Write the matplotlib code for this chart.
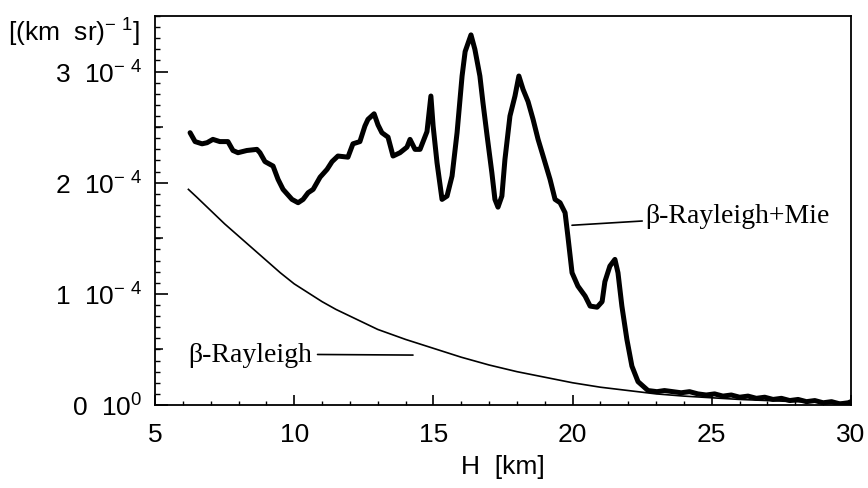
import matplotlib
matplotlib.use("Agg")
import matplotlib.pyplot as plt
from matplotlib.ticker import MultipleLocator

plt.rcParams['font.family'] = ['Liberation Sans', 'DejaVu Sans']
plt.rcParams['mathtext.default'] = 'regular'

# ---- data (units: 1e-4 (km sr)^-1) ----
mie_h = [6.26, 6.44, 6.69, 6.87, 7.08, 7.33, 7.62, 7.80, 7.98, 8.30, 8.66, 8.77,
         8.95, 9.24, 9.42, 9.60, 9.92, 10.14, 10.32, 10.50, 10.68, 10.93, 11.18,
         11.36, 11.57, 11.93, 12.11, 12.36, 12.54, 12.65, 12.87, 13.01, 13.15,
         13.37, 13.55, 13.80, 14.05, 14.16, 14.34, 14.52, 14.77, 14.91, 14.99,
         15.13, 15.31, 15.49, 15.67, 15.85, 16.03, 16.14, 16.35, 16.49, 16.67,
         16.78, 16.93, 17.10, 17.21, 17.32, 17.46, 17.57, 17.75, 17.93, 18.07,
         18.22, 18.40, 18.58, 18.76, 18.94, 19.19, 19.37, 19.55, 19.73, 19.83,
         19.98, 20.19, 20.45, 20.63, 20.88, 21.06, 21.16, 21.34, 21.52, 21.63,
         21.77, 21.95, 22.13, 22.35, 22.71, 23.03, 23.3, 23.6, 23.9, 24.2, 24.5,
         24.8, 25.1, 25.4, 25.7, 26.0, 26.3, 26.6, 26.9, 27.2, 27.5, 27.8, 28.1,
         28.4, 28.7, 29.0, 29.3, 29.6, 29.9, 30.0]
mie_v = [2.45, 2.37, 2.35, 2.36, 2.39, 2.37, 2.37, 2.29, 2.27, 2.29, 2.30, 2.27,
         2.19, 2.15, 2.03, 1.94, 1.85, 1.82, 1.85, 1.91, 1.94, 2.05, 2.12,
         2.19, 2.24, 2.23, 2.35, 2.37, 2.51, 2.57, 2.62, 2.52, 2.45,
         2.41, 2.24, 2.27, 2.32, 2.39, 2.30, 2.30, 2.46, 2.78, 2.51,
         2.18, 1.85, 1.88, 2.06, 2.45, 2.96, 3.18, 3.33, 3.20, 2.96,
         2.72, 2.42, 2.09, 1.85, 1.78, 1.88, 2.21, 2.60, 2.78, 2.96,
         2.84, 2.73, 2.57, 2.39, 2.24, 2.03, 1.85, 1.82, 1.73, 1.52,
         1.19, 1.07, 0.98, 0.89, 0.88, 0.93, 1.11, 1.25, 1.31, 1.19,
         0.89, 0.59, 0.35, 0.21, 0.13, 0.12, 0.13, 0.12, 0.11, 0.12, 0.10,
         0.09, 0.10, 0.08, 0.09, 0.07, 0.08, 0.06, 0.07, 0.05, 0.06, 0.04, 0.05,
         0.03, 0.04, 0.02, 0.03, 0.01, 0.02, 0.03]

ray_h = [6.2, 6.5, 7.0, 7.5, 8.0, 8.5, 9.0, 9.5, 10.0, 10.5, 11.0, 11.5, 12.0,
         13.0, 14.0, 15.0, 16.0, 17.0, 18.0, 19.0, 20.0, 21.0, 22.0, 23.0, 24.0,
         25.0, 26.0, 27.0, 28.0, 29.0, 30.0]
ray_v = [1.94, 1.87, 1.75, 1.63, 1.52, 1.41, 1.30, 1.19, 1.09, 1.01, 0.93, 0.86,
         0.80, 0.68, 0.59, 0.51, 0.43, 0.36, 0.30, 0.25, 0.20, 0.16, 0.13, 0.10,
         0.08, 0.065, 0.05, 0.04, 0.03, 0.025, 0.02]

scale = 1e-4
ytick_vals = [0, 1e-4, 2e-4, 3e-4]
ytick_labels = [r'0  10$^{0}$', r'1  10$^{-\ 4}$', r'2  10$^{-\ 4}$', r'3  10$^{-\ 4}$']
xtick_vals = [5, 10, 15, 20, 25, 30]

fig = plt.figure(figsize=(8.68, 4.89), dpi=100)
ax = fig.add_axes([155/868, 1-406/489, (851-155)/868, (406-17)/489])

ax.plot(ray_h, [v*scale for v in ray_v], color='black', lw=1.2)
ax.plot(mie_h, [v*scale for v in mie_v], color='black', lw=3.6,
        solid_joinstyle='round', solid_capstyle='round')

ax.set_xlim(5, 30)
ax.set_ylim(0, 3.5e-4)

ax.set_xticks(xtick_vals)
ax.set_xticklabels([str(v) for v in xtick_vals])
ax.xaxis.set_minor_locator(MultipleLocator(1))
ax.set_yticks(ytick_vals)
ax.set_yticklabels(ytick_labels)
ax.yaxis.set_minor_locator(MultipleLocator(1e-5))

ax.tick_params(axis='both', which='both', direction='in', top=False, right=False,
               labelsize=19)
ax.tick_params(axis='x', which='major', length=7, width=1.2, pad=12)
ax.tick_params(axis='x', which='minor', length=3, width=1.0)
ax.tick_params(axis='y', which='major', length=9, width=1.2, pad=9)
ax.tick_params(axis='y', which='minor', length=3.5, width=1.0)

# medium ticks at half steps on y
sec = ax.secondary_yaxis('left')
sec.set_yticks([0.5e-4, 1.5e-4, 2.5e-4])
sec.set_yticklabels([])
sec.tick_params(direction='in', length=6, width=1.1)
sec.spines['left'].set_visible(False)

for s in ax.spines.values():
    s.set_linewidth(1.3)

ax.set_xlabel('H  [km]', fontsize=19, labelpad=6)

fig.text(8/868, 1-33/489, r'[(km  sr)$^{-\ 1}$]', fontsize=19, va='center', ha='left')

# annotations
ax.annotate('β-Rayleigh+Mie', xy=(5 + (572-155)/27.84, (406-226)/111.3*scale),
            xytext=(5 + (645-155)/27.84, (406-216)/111.3*scale),
            fontsize=20, family='Liberation Serif', va='center', ha='left',
            arrowprops=dict(arrowstyle='-', color='black', lw=1.2,
                            shrinkA=0, shrinkB=0))
ax.annotate('β-Rayleigh', xy=(5 + (413-155)/27.84, (406-356)/111.3*scale),
            xytext=(5 + (312-155)/27.84, (406-355)/111.3*scale),
            fontsize=20, family='Liberation Serif', va='center', ha='right',
            arrowprops=dict(arrowstyle='-', color='black', lw=1.2,
                            shrinkA=2, shrinkB=0))

fig.savefig('out.png', dpi=100)
